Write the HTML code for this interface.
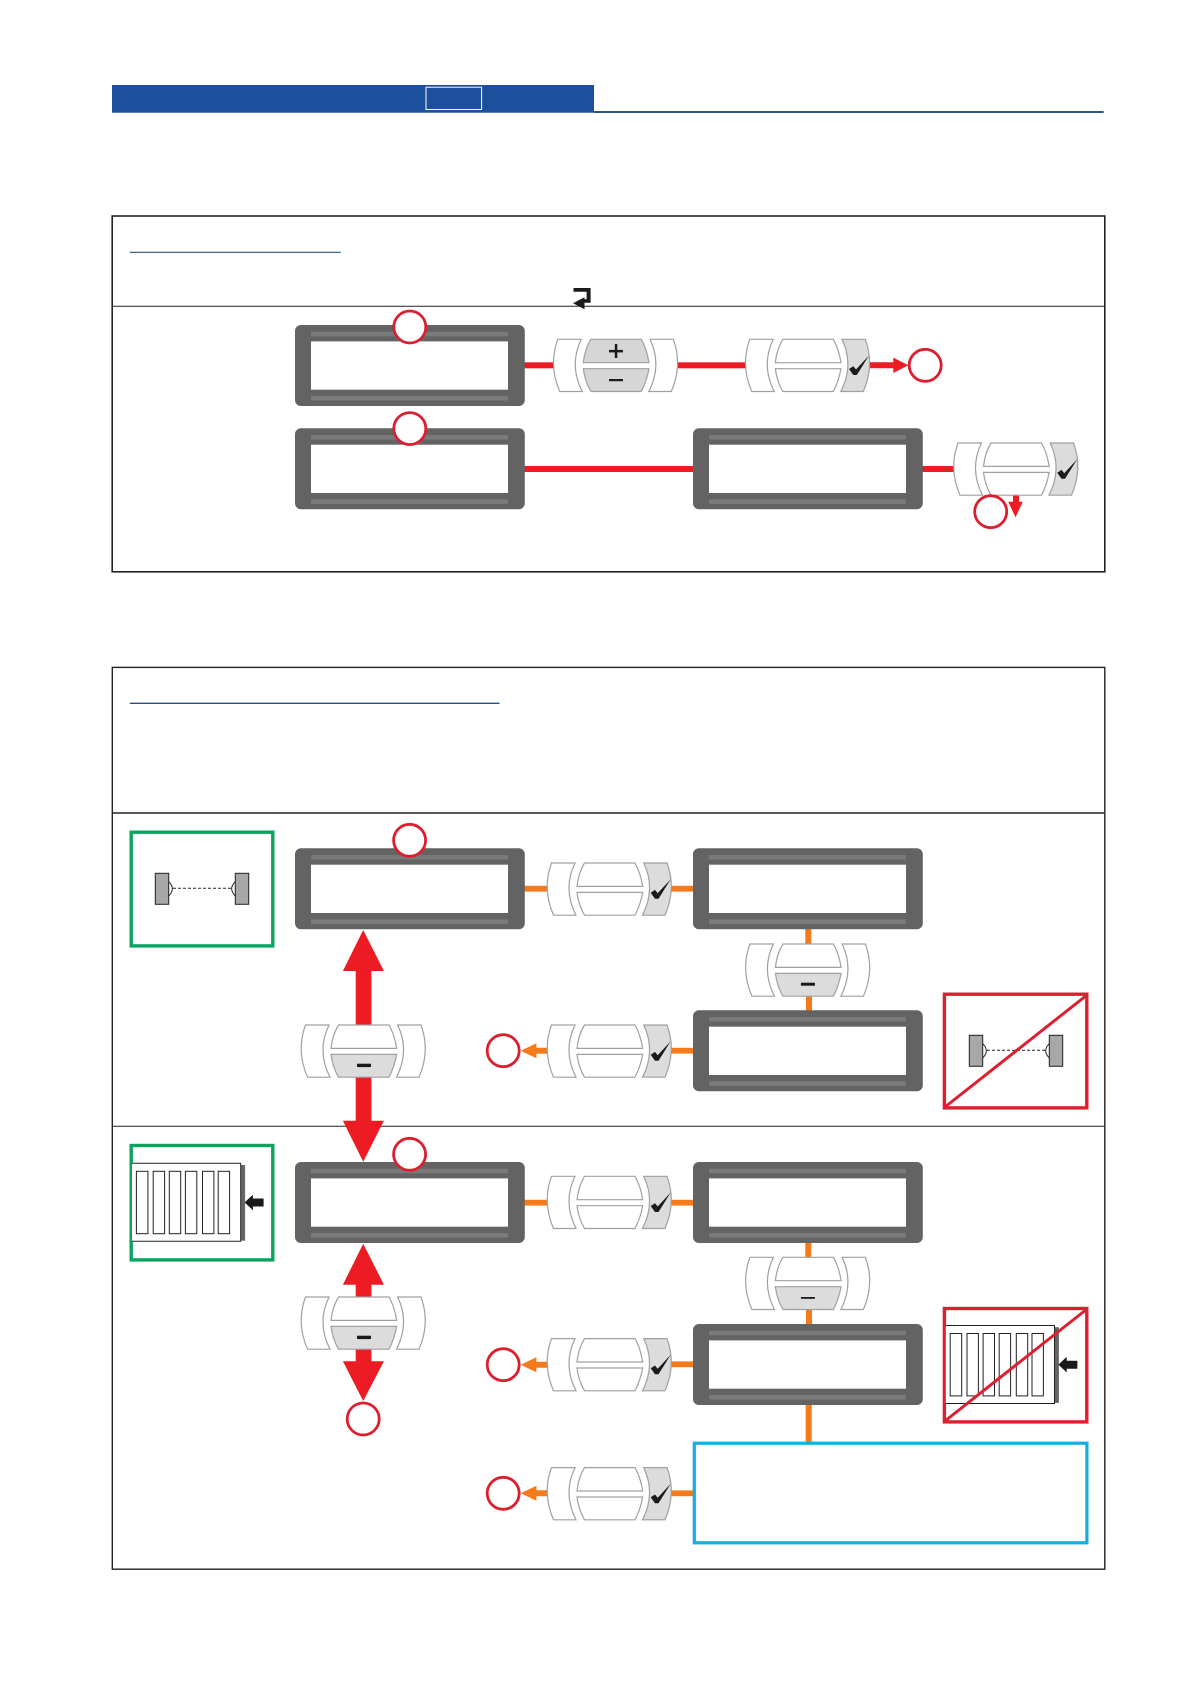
<!DOCTYPE html>
<html><head><meta charset="utf-8"><title>Diagram</title>
<style>html,body{margin:0;padding:0;background:#fff}svg{display:block}</style></head>
<body>
<svg xmlns="http://www.w3.org/2000/svg" width="1191" height="1684" viewBox="0 0 1191 1684">
<defs>
<g id="disp">
<rect x="0" y="0" width="229.8" height="81" rx="6" fill="#636363"/>
<rect x="16" y="6.8" width="197" height="4.4" fill="#7a7a7a"/>
<rect x="16" y="71" width="197" height="4.6" fill="#7a7a7a"/>
<rect x="16" y="16.4" width="197" height="48.3" fill="#fff"/>
</g>
<path id="lp" d="M4.5 .3L28 .3Q15.5 26 29 52.5L6.5 52.5Q-5 26 4.5 .3Z" stroke="#a0a0a0" stroke-width="1.2"/>
<path id="rp" d="M96.7 .3L120 .3Q129.5 26 118 52.5L95.5 52.5Q109 26 96.7 .3Z" stroke="#a0a0a0" stroke-width="1.2"/>
<path id="ct" d="M37.5 .3L88 .3Q93.5 10 95.7 23.7L30 23.7Q31.5 10 37.5 .3Z" stroke="#a0a0a0" stroke-width="1.2"/>
<path id="cb" d="M30 29.7L95.7 29.7Q93.5 42 88 52.5L37.5 52.5Q31.5 42 30 29.7Z" stroke="#a0a0a0" stroke-width="1.2"/>
<g id="btnC">
<use href="#lp" fill="#fff"/><use href="#ct" fill="#fff"/><use href="#cb" fill="#fff"/><use href="#rp" fill="#dcdcdc"/>
<path d="M103.7 30L108 27.2L110.7 30.5L123.7 16.5L111.5 36L108 36Z" fill="#1a1a1a"/>
</g>
<g id="btnM">
<use href="#lp" fill="#fff"/><use href="#ct" fill="#fff"/><use href="#rp" fill="#fff"/><use href="#cb" fill="#dcdcdc"/>
</g>
<g id="circ"><circle r="16" fill="#fff" stroke="#dc1f2e" stroke-width="2.8"/></g>
<g id="ant">
<path d="M168.7 881.7Q176 888.5 168.7 896M235.3 881.7Q228 888.5 235.3 896" fill="#fff" stroke="#222" stroke-width="1"/>
<line x1="173" y1="888.3" x2="231" y2="888.3" stroke="#222" stroke-width="1" stroke-dasharray="3 2"/>
<rect x="155.3" y="873.3" width="13.4" height="31" fill="#a7a7a7" stroke="#222" stroke-width="1"/>
<rect x="235.3" y="873.3" width="13.4" height="31" fill="#a7a7a7" stroke="#222" stroke-width="1"/>
</g>
<g id="rad">
<rect x="240.7" y="1165" width="4.4" height="75.7" fill="#666"/>
<path d="M132 1163.3H240.7V1241.3H132" fill="#fff" stroke="#222" stroke-width="1"/>
<g fill="#fff" stroke="#222" stroke-width="1">
<rect x="136.4" y="1171.3" width="11.5" height="62.4"/><rect x="153.2" y="1171.3" width="11.4" height="62.4"/>
<rect x="169.3" y="1171.3" width="11.4" height="62.4"/><rect x="185.4" y="1171.3" width="11.4" height="62.4"/>
<rect x="202.5" y="1171.3" width="11.4" height="62.4"/><rect x="218.2" y="1171.3" width="11.4" height="62.4"/>
</g>
<path d="M244.6 1202.4L252.9 1194.7V1198.5H263.6V1206.5H252.9V1210.3Z" fill="#1a1a1a"/>
</g>
<path id="oal" d="M0 0L15.7 -7.5V-3H26.3V3H15.7V7.5Z" fill="#f47a1c"/>
</defs>

<rect width="1191" height="1684" fill="#fff"/>

<!-- header -->
<rect x="594" y="111" width="509.7" height="2" fill="#2b5488"/>
<rect x="112" y="85" width="482" height="27.7" fill="#1c4f9c"/>
<rect x="426" y="87.2" width="55.6" height="22.3" fill="none" stroke="#fff" stroke-width="1"/>

<!-- box 1 -->
<rect x="112.2" y="216" width="992.6" height="355.8" fill="#fff" stroke="#222" stroke-width="1.6"/>
<line x1="112" y1="306.3" x2="1105" y2="306.3" stroke="#222" stroke-width="1"/>
<line x1="129.8" y1="252.3" x2="340.8" y2="252.3" stroke="#2a5080" stroke-width="1.2"/>
<path d="M573.5 288H590.6V302.8H584.5V309.3L573 303.3L584.5 297.3V299.2H586.6V291.7H573.5Z" fill="#1a1a1a"/>

<!-- box 2 -->
<rect x="112.3" y="667.4" width="992.5" height="901.8" fill="#fff" stroke="#222" stroke-width="1.4"/>
<line x1="112" y1="813" x2="1105" y2="813" stroke="#222" stroke-width="1.4"/>
<line x1="112" y1="1126.3" x2="1105" y2="1126.3" stroke="#222" stroke-width="1"/>
<line x1="129.8" y1="703.3" x2="499.5" y2="703.3" stroke="#2a5080" stroke-width="1.3"/>

<!-- red connectors row 1/2 -->
<g fill="#ed1c24">
<rect x="524" y="362.3" width="30" height="6"/>
<rect x="677" y="362.3" width="69" height="6"/>
<path d="M869 362.3H893.3V357.6L908.3 365.3L893.3 373V368.3H869Z"/>
<rect x="524" y="466" width="170" height="6"/>
<rect x="922" y="466" width="32" height="6"/>
<path d="M1013 495H1019V501.7H1022.8L1015.5 517.3L1008.2 501.7H1013Z"/>
<!-- big arrows -->
<path d="M363.2 930L383.9 971H371.4V1025H355.7V971H342.9Z"/>
<path d="M355.7 1077H371.4V1120.7H383.9L363.2 1161.7L342.9 1120.7H355.7Z"/>
<path d="M363.2 1243.7L383.9 1284.7H371.4V1297H355.7V1284.7H342.9Z"/>
<path d="M355.7 1349H371.4V1361.3H383.9L363.2 1401L342.9 1361.3H355.7Z"/>
</g>

<!-- orange connectors -->
<g fill="#f47a1c">
<rect x="524" y="885.8" width="24" height="5.8"/><rect x="670" y="885.8" width="24" height="5.8"/>
<rect x="805.3" y="928" width="6" height="16"/><rect x="806" y="995" width="6" height="16"/>
<rect x="670" y="1047.8" width="24" height="5.8"/>
<rect x="524" y="1199.8" width="24" height="5.8"/><rect x="670" y="1199.8" width="24" height="5.8"/>
<rect x="805.3" y="1242" width="6" height="16"/><rect x="806" y="1309" width="6" height="16"/>
<rect x="670" y="1361.4" width="24" height="5.8"/>
<rect x="805.7" y="1404" width="6" height="38"/>
<rect x="670" y="1490.4" width="24" height="5.8"/>
</g>
<use href="#oal" x="520.7" y="1050.7"/>
<use href="#oal" x="520.7" y="1364.7"/>
<use href="#oal" x="520.7" y="1493.3"/>

<!-- displays -->
<use href="#disp" x="295" y="325"/>
<use href="#disp" x="295" y="428.3"/>
<use href="#disp" x="693" y="428.3"/>
<use href="#disp" x="295" y="848.3"/>
<use href="#disp" x="693" y="848.3"/>
<use href="#disp" x="693" y="1010.3"/>
<use href="#disp" x="295" y="1162"/>
<use href="#disp" x="693" y="1162"/>
<use href="#disp" x="693" y="1324"/>

<!-- buttons -->
<g transform="translate(553.3 339)">
<use href="#lp" fill="#fff"/><use href="#rp" fill="#fff"/><use href="#ct" fill="#d6d6d6"/><use href="#cb" fill="#d6d6d6"/>
<rect x="55.7" y="10.9" width="14" height="2.5" fill="#1a1a1a"/><rect x="61.5" y="5" width="2.5" height="14" fill="#1a1a1a"/>
<rect x="55.7" y="40" width="14" height="2.2" fill="#1a1a1a"/>
</g>
<use href="#btnC" x="745.3" y="339"/>
<use href="#btnC" x="953.5" y="442.7"/>
<use href="#btnC" x="547" y="862.7"/>
<g transform="translate(745.4 943.7)"><use href="#btnM"/><rect x="55.5" y="39" width="14" height="3" fill="#1a1a1a"/></g>
<g transform="translate(301 1024.7)"><use href="#btnM"/><rect x="56" y="39" width="14" height="3.4" fill="#1a1a1a"/></g>
<use href="#btnC" x="547" y="1024.7"/>
<use href="#btnC" x="547" y="1176"/>
<g transform="translate(745.4 1257)"><use href="#btnM"/><rect x="55.5" y="40" width="14" height="1.8" fill="#1a1a1a"/></g>
<g transform="translate(301 1296.7)"><use href="#btnM"/><rect x="56" y="39" width="14" height="3.4" fill="#1a1a1a"/></g>
<use href="#btnC" x="547" y="1338.3"/>
<use href="#btnC" x="547" y="1467.3"/>

<!-- circles -->
<use href="#circ" x="409.8" y="327"/>
<use href="#circ" x="409.8" y="428.6"/>
<use href="#circ" x="925.2" y="365.3"/>
<use href="#circ" x="990.7" y="511.7"/>
<use href="#circ" x="409.6" y="840.3"/>
<use href="#circ" x="503.2" y="1050.7"/>
<use href="#circ" x="409.6" y="1154.3"/>
<use href="#circ" x="503.2" y="1364.7"/>
<use href="#circ" x="363.2" y="1419"/>
<use href="#circ" x="503.2" y="1493.3"/>

<!-- green boxes -->
<rect x="131.2" y="832.2" width="141.6" height="113.7" fill="#fff" stroke="#0ba360" stroke-width="3.4"/>
<use href="#ant"/>
<rect x="131.2" y="1145.5" width="141.6" height="114.4" fill="#fff" stroke="#0ba360" stroke-width="3.4"/>
<use href="#rad"/>

<!-- red no boxes -->
<rect x="944.4" y="994.2" width="142.4" height="113.7" fill="#fff" stroke="#dc2030" stroke-width="3.4"/>
<use href="#ant" x="814" y="162"/>
<line x1="945" y1="1107" x2="1087" y2="995" stroke="#dc2030" stroke-width="3"/>
<rect x="944.4" y="1308.5" width="142.4" height="113.4" fill="#fff" stroke="#dc2030" stroke-width="3.4"/>
<use href="#rad" x="813.8" y="162.2"/>
<line x1="945" y1="1421" x2="1087" y2="1309" stroke="#dc2030" stroke-width="3"/>

<!-- blue box -->
<rect x="694.3" y="1443.2" width="392.6" height="99.6" fill="#fff" stroke="#12aee5" stroke-width="3.2"/>
</svg>
</body></html>
